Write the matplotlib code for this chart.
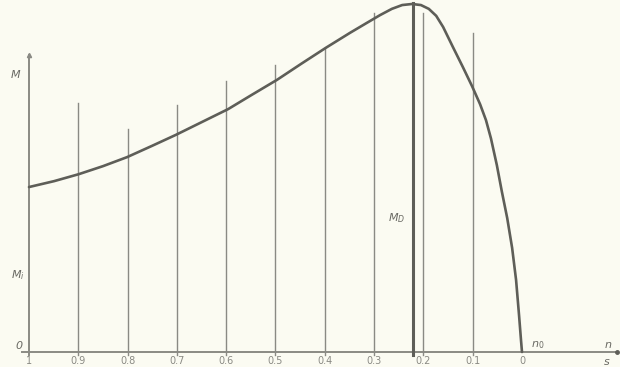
import matplotlib as mpl
mpl.use('Agg')
import matplotlib.pyplot as plt

# torque curve M(s), M normalised to the breakdown torque
slip = [1.000, 0.949, 0.899, 0.850, 0.801, 0.751, 0.702, 0.649, 0.596, 0.548,
        0.497, 0.448, 0.398, 0.349, 0.318, 0.288, 0.264, 0.243, 0.223, 0.205,
        0.189, 0.174, 0.160, 0.140, 0.120, 0.101, 0.085, 0.073, 0.063, 0.051,
        0.041, 0.030, 0.020, 0.012, 0.006, 0.002, 0.0]
torque = [0.474, 0.491, 0.511, 0.534, 0.560, 0.592, 0.624, 0.661, 0.698, 0.739,
          0.782, 0.828, 0.874, 0.917, 0.943, 0.968, 0.986, 0.997, 1.000, 0.997,
          0.986, 0.966, 0.934, 0.876, 0.819, 0.763, 0.712, 0.666, 0.614, 0.537,
          0.462, 0.385, 0.299, 0.207, 0.106, 0.034, 0.0]

# vertical guide lines at each slip tick, with their top ends
grid_s = [0.9, 0.8, 0.7, 0.6, 0.5, 0.4, 0.3, 0.2, 0.1]
grid_top = [0.716, 0.641, 0.710, 0.779, 0.825, 0.874, 0.974, 0.974, 0.917]
s_break = 0.222
tick_s = [1, 0.9, 0.8, 0.7, 0.6, 0.5, 0.4, 0.3, 0.2, 0.1, 0]
tick_lbl = ['1', '0.9', '0.8', '0.7', '0.6', '0.5', '0.4', '0.3', '0.2', '0.1', '0']

bg = '#fbfbf2'
ink = '#5e5e58'
thin = '#8a8a84'

fig = plt.figure(figsize=(6.2, 3.67), dpi=100, facecolor=bg)
ax = fig.add_axes([0, 0, 1, 1])
ax.set_facecolor(bg)
ax.axis('off')
ax.set_xlim(1.0588, -0.1988)
ax.set_ylim(-0.0431, 1.0115)

# axes
ax.plot([1.0146, -0.193], [0, 0], color=thin, lw=1.4)
ax.plot([1, 1], [-0.01, 0.853], color=thin, lw=1.4)
ax.plot([1], [0.853], marker='^', ms=3, color=thin)
ax.plot([-0.193], [0], marker='o', ms=2.5, color=ink)

for s, top in zip(grid_s, grid_top):
    ax.plot([s, s], [-0.008, top], color=thin, lw=1.0)
ax.plot([s_break, s_break], [-0.008, 1.003], color=ink, lw=2.2)

ax.plot(slip, torque, color=ink, lw=1.9, solid_capstyle='round',
        solid_joinstyle='round')

for s, t in zip(tick_s, tick_lbl):
    ax.text(s, -0.040, t, ha='center', va='bottom', fontsize=7, color=thin)

txt = dict(color='#6a6a64', fontsize=8, style='italic')
ax.text(1.027, 0.795, 'M', ha='center', va='center', **txt)
ax.text(1.023, 0.221, r'$M_i$', ha='center', va='center', **txt)
ax.text(1.021, 0.017, '0', ha='center', va='center', **txt)
ax.text(0.254, 0.385, r'$M_D$', ha='center', va='center', **txt)
ax.text(-0.032, 0.020, r'$n_0$', ha='center', va='center', **txt)
ax.text(-0.174, 0.020, 'n', ha='center', va='center', **txt)
ax.text(-0.172, -0.028, 's', ha='center', va='center', **txt)

plt.savefig('out.png', dpi=100, facecolor=bg)
